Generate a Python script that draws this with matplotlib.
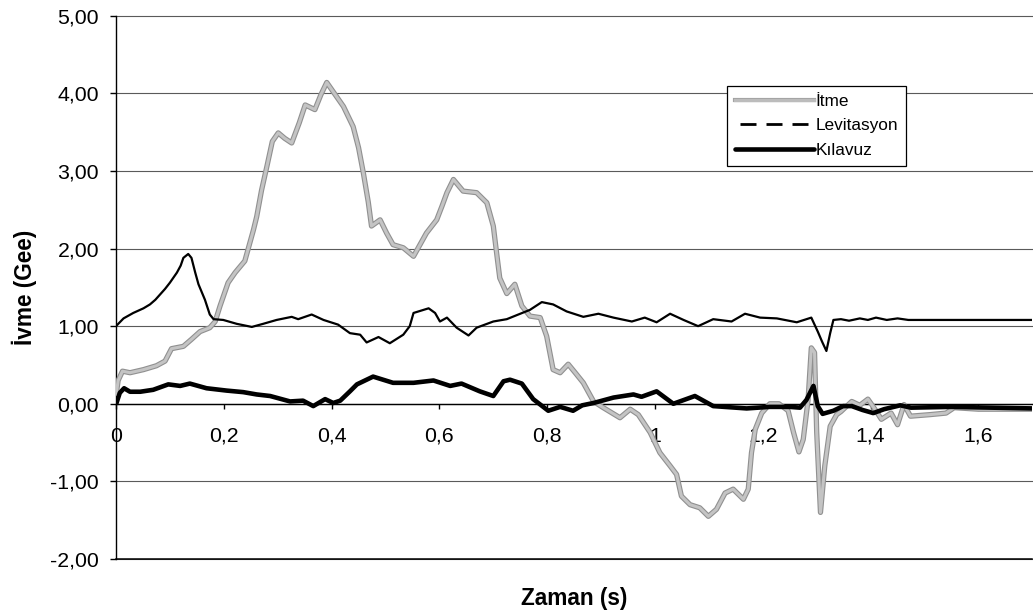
import matplotlib
matplotlib.use("Agg")
import matplotlib.pyplot as plt
from matplotlib.lines import Line2D
import matplotlib.patheffects as pe

plt.rcParams['font.family'] = ['Liberation Sans', 'DejaVu Sans']

# ---------------- data ----------------
series_names = ["İtme", "Levitasyon", "Kılavuz"]

t_itme = [0.000, 0.004, 0.012, 0.026, 0.051, 0.075, 0.091, 0.103, 0.125, 0.140,
          0.156, 0.174, 0.184, 0.193, 0.208, 0.221, 0.239, 0.255, 0.261, 0.270,
          0.280, 0.290, 0.301, 0.313, 0.326, 0.340, 0.351, 0.360, 0.369, 0.380,
          0.391, 0.405, 0.422, 0.440, 0.450, 0.459, 0.468, 0.474, 0.482, 0.490,
          0.502, 0.514, 0.533, 0.552, 0.564, 0.576, 0.595, 0.605, 0.614, 0.626,
          0.644, 0.669, 0.688, 0.700, 0.706, 0.712, 0.725, 0.740, 0.753, 0.768,
          0.787, 0.799, 0.811, 0.824, 0.839, 0.852, 0.867, 0.886, 0.904, 0.935,
          0.954, 0.969, 0.991, 1.009, 1.028, 1.040, 1.049, 1.065, 1.083, 1.099,
          1.114, 1.130, 1.145, 1.164, 1.173, 1.179, 1.186, 1.198, 1.213, 1.230,
          1.247, 1.257, 1.267, 1.275, 1.284, 1.290, 1.296, 1.300, 1.307, 1.315,
          1.325, 1.337, 1.345, 1.365, 1.380, 1.395, 1.408, 1.420, 1.438, 1.450,
          1.462, 1.474, 1.510, 1.540, 1.555, 1.600, 1.700]
itme = [0.10, 0.30, 0.42, 0.40, 0.44, 0.49, 0.55, 0.71, 0.74, 0.83,
        0.93, 0.98, 1.06, 1.26, 1.56, 1.69, 1.84, 2.24, 2.41, 2.75,
        3.06, 3.38, 3.49, 3.42, 3.36, 3.62, 3.85, 3.82, 3.79, 3.98,
        4.14, 4.00, 3.83, 3.57, 3.30, 2.97, 2.60, 2.29, 2.33, 2.37,
        2.20, 2.05, 2.01, 1.90, 2.05, 2.20, 2.37, 2.55, 2.72, 2.89,
        2.74, 2.72, 2.59, 2.29, 1.95, 1.62, 1.42, 1.54, 1.26, 1.13,
        1.11, 0.87, 0.44, 0.40, 0.51, 0.40, 0.27, 0.03, -0.05, -0.18,
        -0.07, -0.14, -0.37, -0.63, -0.80, -0.91, -1.19, -1.30, -1.34, -1.45,
        -1.36, -1.15, -1.10, -1.23, -1.10, -0.63, -0.33, -0.12, 0.00, 0.00,
        -0.09, -0.37, -0.62, -0.46, 0.05, 0.72, 0.66, -0.37, -1.40, -0.80,
        -0.29, -0.14, -0.10, 0.03, -0.02, 0.06, -0.07, -0.20, -0.12, -0.27,
        -0.01, -0.16, -0.14, -0.12, -0.05, -0.07, -0.07]

t_lev = [0.000, 0.014, 0.032, 0.051, 0.063, 0.073, 0.082, 0.091, 0.100, 0.113,
         0.120, 0.125, 0.134, 0.140, 0.147, 0.153, 0.165, 0.174, 0.181, 0.199,
         0.224, 0.252, 0.273, 0.298, 0.326, 0.338, 0.363, 0.385, 0.412, 0.434,
         0.453, 0.465, 0.487, 0.508, 0.533, 0.545, 0.552, 0.580, 0.592, 0.601,
         0.614, 0.632, 0.654, 0.669, 0.700, 0.725, 0.750, 0.768, 0.790, 0.811,
         0.836, 0.867, 0.895, 0.923, 0.957, 0.981, 1.003, 1.028, 1.053, 1.080,
         1.108, 1.142, 1.167, 1.195, 1.226, 1.263, 1.290, 1.302, 1.310, 1.318,
         1.325, 1.331, 1.345, 1.360, 1.380, 1.395, 1.410, 1.430, 1.450, 1.470,
         1.700]
lev = [1.00, 1.10, 1.17, 1.23, 1.28, 1.34, 1.41, 1.48, 1.56, 1.69,
       1.78, 1.88, 1.93, 1.88, 1.69, 1.54, 1.34, 1.15, 1.09, 1.08,
       1.03, 0.99, 1.03, 1.08, 1.12, 1.09, 1.15, 1.08, 1.02, 0.91,
       0.89, 0.79, 0.86, 0.78, 0.89, 1.00, 1.17, 1.23, 1.17, 1.06,
       1.11, 0.98, 0.88, 0.98, 1.06, 1.09, 1.16, 1.21, 1.31, 1.28,
       1.19, 1.12, 1.16, 1.11, 1.06, 1.11, 1.05, 1.16, 1.08, 1.00,
       1.09, 1.06, 1.16, 1.11, 1.10, 1.05, 1.11, 0.93, 0.80, 0.68,
       0.91, 1.08, 1.09, 1.07, 1.10, 1.08, 1.11, 1.08, 1.10, 1.08,
       1.08]

t_kil = [0.000, 0.007, 0.015, 0.026, 0.045, 0.069, 0.097, 0.119, 0.137, 0.168,
         0.205, 0.236, 0.261, 0.286, 0.323, 0.347, 0.366, 0.388, 0.403, 0.416,
         0.434, 0.447, 0.477, 0.514, 0.552, 0.589, 0.620, 0.641, 0.675, 0.700,
         0.719, 0.731, 0.753, 0.774, 0.802, 0.824, 0.848, 0.865, 0.886, 0.923,
         0.960, 0.975, 1.003, 1.034, 1.074, 1.108, 1.170, 1.213, 1.250, 1.269,
         1.281, 1.294, 1.302, 1.311, 1.331, 1.349, 1.365, 1.385, 1.405, 1.425,
         1.455, 1.475, 1.550, 1.700]
kil = [-0.01, 0.14, 0.20, 0.155, 0.155, 0.18, 0.25, 0.23, 0.26, 0.20,
       0.17, 0.15, 0.12, 0.10, 0.03, 0.04, -0.03, 0.06, 0.01, 0.04,
       0.16, 0.25, 0.35, 0.27, 0.27, 0.30, 0.23, 0.26, 0.16, 0.10,
       0.29, 0.31, 0.26, 0.06, -0.09, -0.04, -0.09, -0.02, 0.01, 0.08,
       0.12, 0.09, 0.16, 0.00, 0.10, -0.03, -0.06, -0.04, -0.04, -0.05,
       0.05, 0.23, -0.03, -0.13, -0.09, -0.03, -0.03, -0.08, -0.12, -0.07,
       -0.02, -0.05, -0.04, -0.06]

x_ticks = [0, 0.2, 0.4, 0.6, 0.8, 1.0, 1.2, 1.4, 1.6]
x_tick_labels = ["0", "0,2", "0,4", "0,6", "0,8", "1", "1,2", "1,4", "1,6"]
y_ticks = [-2, -1, 0, 1, 2, 3, 4, 5]
y_tick_labels = ["-2,00", "-1,00", "0,00", "1,00", "2,00", "3,00", "4,00", "5,00"]
x_label = "Zaman (s)"
y_label = "İvme (Gee)"

# ---------------- figure ----------------
W, H = 1033, 614
fig = plt.figure(figsize=(W / 100, H / 100), dpi=100)
ax_left, ax_right, ax_top, ax_bottom = 116, 1032.3, 15.7, 559
ax = fig.add_axes([ax_left / W, 1 - ax_bottom / H,
                   (ax_right - ax_left) / W, (ax_bottom - ax_top) / H])
ax.set_xlim(0, 1.7)
ax.set_ylim(-2, 5)

# grid lines
ax.set_yticks(y_ticks)
ax.set_yticklabels(y_tick_labels)
ax.yaxis.grid(True, color='#5a5a5a', linewidth=0.8)
for gl in ax.get_ygridlines():
    gl.set_clip_on(False)
ax.set_axisbelow(True)

# series
itme_line, = ax.plot(t_itme, itme, color='#c4c4c4', linewidth=2.2, zorder=3,
                     solid_joinstyle='round', solid_capstyle='butt',
                     path_effects=[pe.Stroke(linewidth=3.8, foreground='#909090'),
                                   pe.Normal()])
lev_line, = ax.plot(t_lev, lev, color='black', linewidth=1.6, zorder=4,
                    solid_joinstyle='round')
kil_line, = ax.plot(t_kil, kil, color='black', linewidth=3.3, zorder=5,
                    solid_joinstyle='round', solid_capstyle='butt')

# axes styling
for s in ['top', 'right']:
    ax.spines[s].set_visible(False)
ax.spines['bottom'].set_position(('data', 0))
ax.spines['bottom'].set_linewidth(1.0)
ax.spines['left'].set_linewidth(1.0)
ax.axhline(-2, color='black', linewidth=1.1, clip_on=False, zorder=2)

ax.set_xticks(x_ticks)
ax.set_xticklabels(x_tick_labels)
ax.tick_params(axis='x', direction='out', length=3.6, width=1.0, pad=13,
               labelsize=15.3)
ax.tick_params(axis='y', direction='out', length=4.3, width=1.0, pad=8,
               labelsize=15.3)

ax.set_xlabel(x_label, fontsize=16.3, fontweight='bold')
ax.xaxis.set_label_coords(0.5, (ax_bottom - 599) / (ax_bottom - ax_top))
ax.xaxis.label.set_va('center')
ax.set_ylabel(y_label, fontsize=16.3, fontweight='bold')
ax.yaxis.set_label_coords((24 - ax_left) / (ax_right - ax_left), 0.5)
ax.yaxis.label.set_va('center')

# legend
handles = [
    Line2D([], [], color='#bcbcbc', linewidth=2.4,
           path_effects=[pe.Stroke(linewidth=3.0, foreground='#a0a0a0'), pe.Normal()]),
    Line2D([], [], color='black', linewidth=2.0, linestyle=(7.56, (5.76, 3.6))),
    Line2D([], [], color='black', linewidth=3.3, solid_capstyle='round'),
]
leg = ax.legend(handles, series_names, loc='upper left',
                bbox_to_anchor=(727 / W, 1 - 86 / H),
                bbox_transform=fig.transFigure, borderaxespad=0,
                fontsize=12.4, frameon=True, fancybox=False, shadow=False,
                handlelength=4.6, handletextpad=0.1, borderpad=0.45,
                labelspacing=0.55)
leg.get_frame().set_edgecolor('black')
leg.get_frame().set_linewidth(0.9)
leg.get_frame().set_facecolor('white')
leg.get_frame().set_alpha(1)
leg.set_zorder(10)

fig.savefig("out.png", dpi=100, facecolor='white')
